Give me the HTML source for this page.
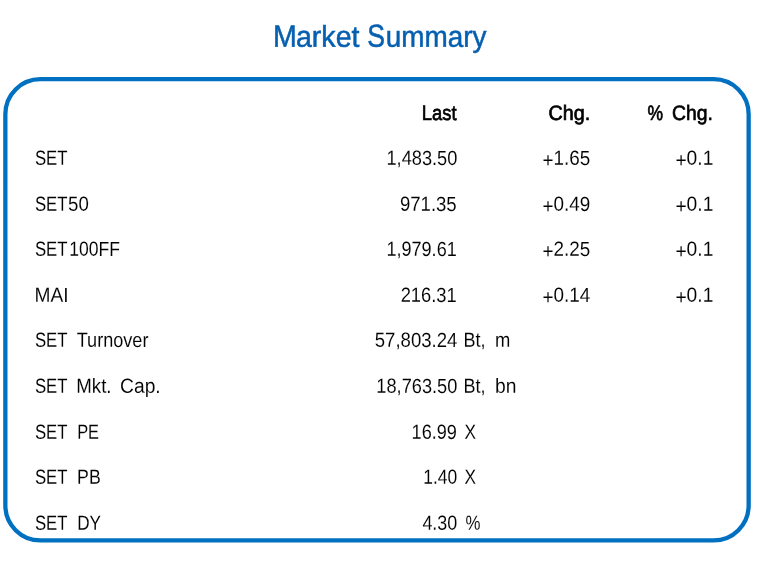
<!DOCTYPE html>
<html><head><meta charset="utf-8"><title>Market Summary</title>
<style>
html,body{margin:0;padding:0;background:#fff;}
body{width:779px;height:564px;position:relative;overflow:hidden;font-family:"Liberation Sans",sans-serif;}
svg{position:absolute;left:0;top:0;}
.g{position:static;}
.g span{position:absolute;left:0;top:0;white-space:pre;transform-origin:0 0;display:block;}
.n{font-size:20px;line-height:24px;color:#000;font-weight:normal;}
.h{font-size:20px;line-height:24px;color:#000;font-weight:normal;}
.title{font-size:29px;line-height:36px;color:#055fb0;font-weight:normal;}
.g span i{font-style:normal;position:relative;top:2px;}
.title{-webkit-text-stroke:0.5px #055fb0;}
.h{-webkit-text-stroke:0.65px #000;}
.n{-webkit-text-stroke:0.08px #fff;}
</style></head><body>
<svg width="779" height="564" viewBox="0 0 779 564"><rect x="5.35" y="79.15" width="743.30" height="461.25" rx="35" ry="35" fill="none" stroke="#0070c0" stroke-width="4.3"/></svg>
<div class="g"><span class="title" style="transform:translate(272.93px,16.69px) rotate(0.05deg) scale(0.9850,1.07)">M</span><span class="title" style="transform:translate(296.02px,17.81px) rotate(0.05deg) scale(0.9840,1.03)">arket</span> <span class="title" style="transform:translate(367.38px,16.00px) rotate(0.05deg) scale(0.9167,1.1)">S</span><span class="title" style="transform:translate(385.74px,17.81px) rotate(0.05deg) scale(0.9623,1.03)">ummary</span></div>
<div class="g"><span class="h" style="transform:translate(421.88px,100.19px) rotate(0.05deg) scale(0.9182,1.04)">Last</span></div>
<div class="g"><span class="h" style="transform:translate(548.41px,100.19px) rotate(0.05deg) scale(0.9877,1.04)">Chg.</span></div>
<div class="g"><span class="h" style="transform:translate(647.40px,100.19px) rotate(0.05deg) scale(0.8722,1.04)">%</span> <span class="h" style="transform:translate(672.14px,100.19px) rotate(0.05deg) scale(0.9650,1.04)">Chg.</span></div>
<div class="g"><span class="n" style="transform:translate(34.90px,145.47px) rotate(0.05deg) scale(0.8376,1.02)">SET</span> <span class="n" style="transform:translate(386.49px,145.47px) rotate(0.05deg) scale(0.9097,1.02)">1,483.50</span> <span class="n" style="transform:translate(542.50px,145.47px) rotate(0.05deg) scale(0.9429,1.02)"><i>+</i>1.65</span> <span class="n" style="transform:translate(675.40px,145.47px) rotate(0.05deg) scale(0.9604,1.02)"><i>+</i>0.1</span></div>
<div class="g"><span class="n" style="transform:translate(34.90px,191.47px) rotate(0.05deg) scale(0.8376,1.02)">SET</span><span class="n" style="transform:translate(68.10px,191.47px) rotate(0.05deg) scale(0.9312,1.02)">50</span> <span class="n" style="transform:translate(399.90px,191.47px) rotate(0.05deg) scale(0.9288,1.02)">971.35</span> <span class="n" style="transform:translate(542.50px,191.47px) rotate(0.05deg) scale(0.9429,1.02)"><i>+</i>0.49</span> <span class="n" style="transform:translate(675.40px,191.47px) rotate(0.05deg) scale(0.9604,1.02)"><i>+</i>0.1</span></div>
<div class="g"><span class="n" style="transform:translate(34.90px,236.47px) rotate(0.05deg) scale(0.8376,1.02)">SET</span><span class="n" style="transform:translate(69.22px,236.47px) rotate(0.05deg) scale(0.8783,1.02)">100FF</span> <span class="n" style="transform:translate(386.50px,236.47px) rotate(0.05deg) scale(0.9019,1.02)">1,979.61</span> <span class="n" style="transform:translate(542.50px,236.47px) rotate(0.05deg) scale(0.9429,1.02)"><i>+</i>2.25</span> <span class="n" style="transform:translate(675.40px,236.47px) rotate(0.05deg) scale(0.9604,1.02)"><i>+</i>0.1</span></div>
<div class="g"><span class="n" style="transform:translate(34.64px,282.47px) rotate(0.05deg) scale(0.9576,1.02)">MAI</span> <span class="n" style="transform:translate(400.68px,282.47px) rotate(0.05deg) scale(0.9159,1.02)">216.31</span> <span class="n" style="transform:translate(542.50px,282.47px) rotate(0.05deg) scale(0.9429,1.02)"><i>+</i>0.14</span> <span class="n" style="transform:translate(675.40px,282.47px) rotate(0.05deg) scale(0.9604,1.02)"><i>+</i>0.1</span></div>
<div class="g"><span class="n" style="transform:translate(34.90px,327.47px) rotate(0.05deg) scale(0.8376,1.02)">SET</span> <span class="n" style="transform:translate(76.70px,327.47px) rotate(0.05deg) scale(0.9055,1.02)">Turnover</span> <span class="n" style="transform:translate(374.80px,327.47px) rotate(0.05deg) scale(0.9274,1.02)">57,803.24</span> <span class="n" style="transform:translate(463.50px,327.47px) rotate(0.05deg) scale(0.8997,1.02)">Bt,</span> <span class="n" style="transform:translate(494.98px,327.47px) rotate(0.05deg) scale(0.9200,1.02)">m</span></div>
<div class="g"><span class="n" style="transform:translate(34.90px,373.47px) rotate(0.05deg) scale(0.8376,1.02)">SET</span> <span class="n" style="transform:translate(76.27px,373.47px) rotate(0.05deg) scale(0.9342,1.02)">Mkt.</span> <span class="n" style="transform:translate(120.04px,373.47px) rotate(0.05deg) scale(0.9625,1.02)">Cap.</span> <span class="n" style="transform:translate(376.39px,373.47px) rotate(0.05deg) scale(0.9095,1.02)">18,763.50</span> <span class="n" style="transform:translate(463.50px,373.47px) rotate(0.05deg) scale(0.8997,1.02)">Bt,</span> <span class="n" style="transform:translate(494.94px,373.47px) rotate(0.05deg) scale(0.9641,1.02)">bn</span></div>
<div class="g"><span class="n" style="transform:translate(34.90px,419.47px) rotate(0.05deg) scale(0.8376,1.02)">SET</span> <span class="n" style="transform:translate(77.18px,419.47px) rotate(0.05deg) scale(0.8208,1.02)">PE</span> <span class="n" style="transform:translate(411.59px,419.47px) rotate(0.05deg) scale(0.9055,1.02)">16.99</span> <span class="n" style="transform:translate(464.40px,419.47px) rotate(0.05deg) scale(0.8615,1.02)">X</span></div>
<div class="g"><span class="n" style="transform:translate(34.90px,464.47px) rotate(0.05deg) scale(0.8376,1.02)">SET</span> <span class="n" style="transform:translate(77.12px,464.47px) rotate(0.05deg) scale(0.8840,1.02)">PB</span> <span class="n" style="transform:translate(423.33px,464.47px) rotate(0.05deg) scale(0.8730,1.02)">1.40</span> <span class="n" style="transform:translate(464.40px,464.47px) rotate(0.05deg) scale(0.8615,1.02)">X</span></div>
<div class="g"><span class="n" style="transform:translate(34.90px,510.47px) rotate(0.05deg) scale(0.8376,1.02)">SET</span> <span class="n" style="transform:translate(77.15px,510.47px) rotate(0.05deg) scale(0.8547,1.02)">DY</span> <span class="n" style="transform:translate(422.40px,510.47px) rotate(0.05deg) scale(0.8968,1.02)">4.30</span> <span class="n" style="transform:translate(465.40px,510.47px) rotate(0.05deg) scale(0.8389,1.02)">%</span></div>
</body></html>
